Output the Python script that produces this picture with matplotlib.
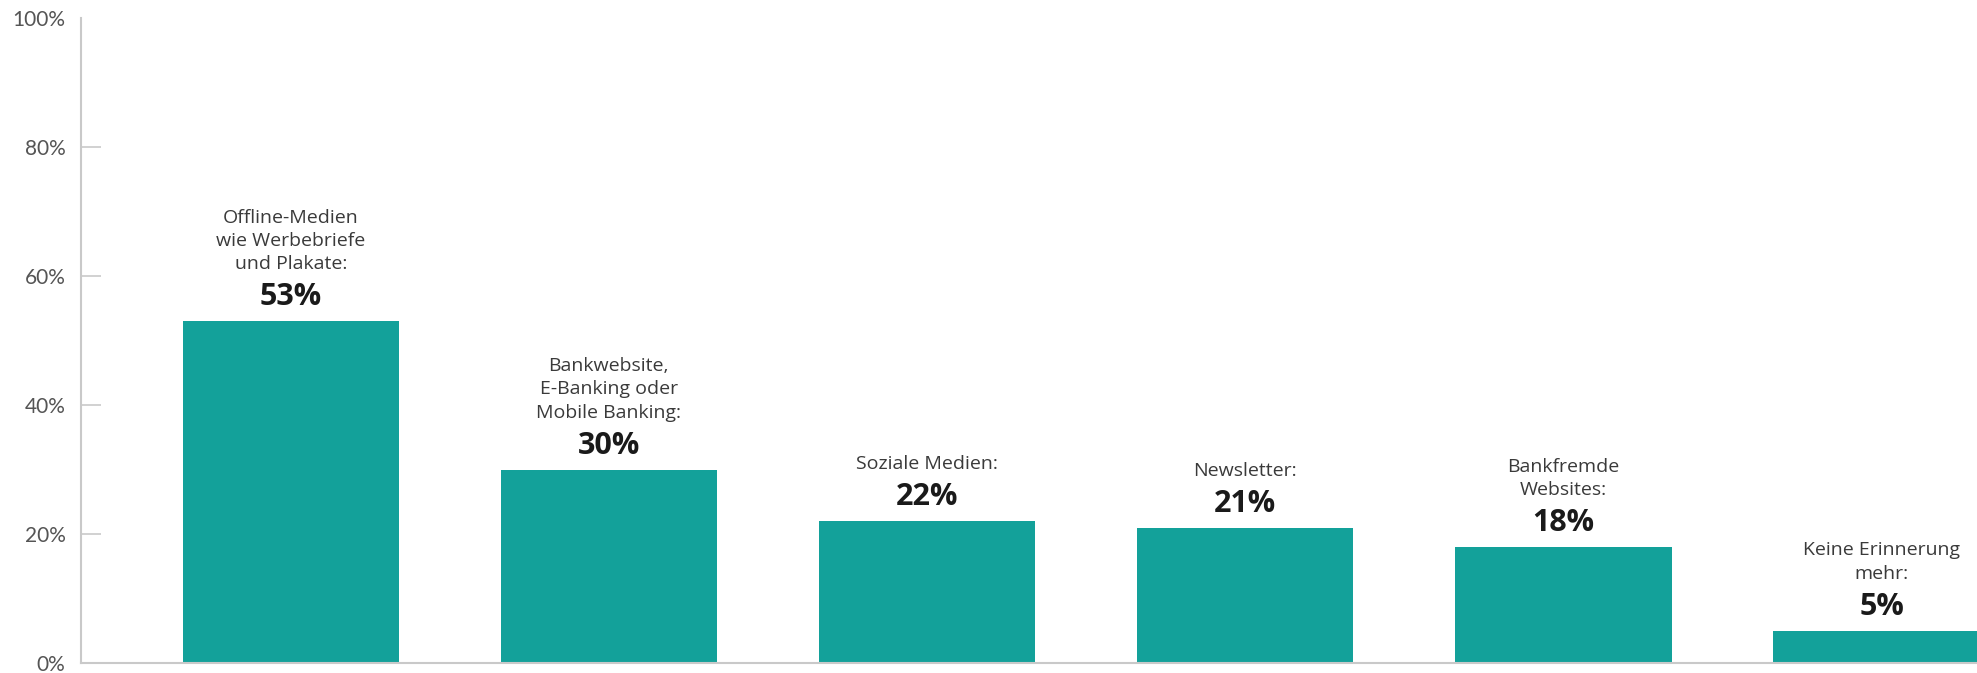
import matplotlib.pyplot as plt

categories = ["Offline-Medien\nwie Werbebriefe\nund Plakate:",
              "Bankwebsite,\nE-Banking oder\nMobile Banking:",
              "Soziale Medien:",
              "Newsletter:",
              "Bankfremde\nWebsites:",
              "Keine Erinnerung\nmehr:"]
values = [53, 30, 22, 21, 18, 5]
yticks = [0, 20, 40, 60, 80, 100]

bar_color = "#13A19A"
grey = "#c9c9c9"

fig = plt.figure(figsize=(19.77, 6.73), dpi=100)
ax = fig.add_axes([80.7 / 1977, 10 / 673, 1 - 80.7 / 1977, 645 / 673])

x = list(range(len(values)))
ax.bar(x, values, width=0.68, color=bar_color)
ax.set_xlim(-0.66, 5.30)
ax.set_ylim(0, 100)

for xi, v, name in zip(x, values, categories):
    ax.annotate(f"{v}%", (xi, v), xytext=(0, 16), textcoords="offset pixels",
                ha="center", va="baseline", fontsize=22, fontweight="bold",
                color="#1a1a1a", family="Open Sans")
    ax.annotate(name, (xi, v), xytext=(0, 48), textcoords="offset pixels",
                ha="center", va="bottom", fontsize=14, color="#3a3a3a",
                family="Open Sans", linespacing=1.38, multialignment="center")

ax.set_yticks(yticks)
ax.set_yticklabels([f"{t}%" for t in yticks], family="Lato", fontsize=15, color="#555555")
ax.tick_params(axis="y", direction="in", length=14.4, width=1.2, color=grey, pad=11)
ax.tick_params(axis="x", bottom=False, labelbottom=False)
# no tick mark at the top (100%)
ax.yaxis.get_major_ticks()[-1].tick1line.set_visible(False)

for s in ["top", "right"]:
    ax.spines[s].set_visible(False)
ax.spines["left"].set_color(grey)
ax.spines["left"].set_linewidth(1.5)
ax.spines["bottom"].set_color(grey)
ax.spines["bottom"].set_linewidth(1.5)

fig.savefig("out.png", dpi=100)
